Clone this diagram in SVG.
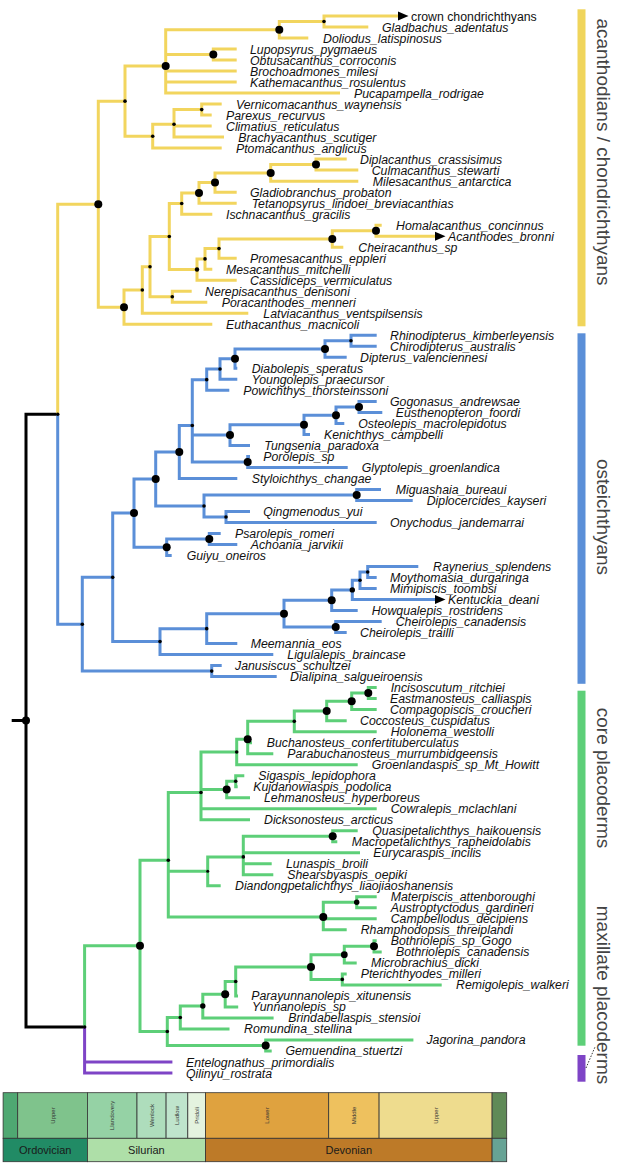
<svg xmlns="http://www.w3.org/2000/svg" width="617" height="1166" viewBox="0 0 617 1166">
<style>
path.e{fill:none;stroke-width:3;stroke-linejoin:miter;stroke-linecap:butt}
.y{stroke:#F2D55E}.b{stroke:#5B8FD8}.g{stroke:#5DCF78}.p{stroke:#7E44C6}.k{stroke:#000}
circle{fill:#000}
text.t{font-family:"Liberation Sans",Arial,sans-serif;font-style:italic;font-size:12.3px;fill:#111}
text.u{font-family:"Liberation Sans",Arial,sans-serif;font-size:12.3px;fill:#111}
text.c{font-family:"Liberation Sans",Arial,sans-serif;font-size:19px;fill:#444}
text.s{font-family:"Liberation Sans",Arial,sans-serif;font-size:6px;fill:#333}
text.pd{font-family:"Liberation Sans",Arial,sans-serif;font-size:11px;fill:#1a1a1a}
.cell{stroke:#333;stroke-width:0.8}
</style>
<defs>
<marker id="arr" markerWidth="11" markerHeight="10" refX="0" refY="5" orient="auto" markerUnits="userSpaceOnUse"><path d="M0,0.5 L10.5,5 L0,9.5 Z" fill="#000"/></marker>
</defs>
<rect width="617" height="1166" fill="#fff"/>
<g id="connectors">
<path class="e k" d="M11.7 720.58 H26 M26 720.58 V414.2 H57.7 M26 720.58 V1026.95 H84.6"/>
<path class="e y" d="M57.7 414.2 V204.15 H98.3 M98.3 204.15 V101.15 H125 M125 101.15 V66.11 H165.7 M165.7 66.11 V29.75 H279.3 M279.3 29.75 V21.5 H324 M324 21.5 V27 H368.3 M279.3 29.75 V38 H308.3 M165.7 66.11 V54.5 H213.3 M213.3 54.5 V49 H236.7 M213.3 54.5 V60 H236.7 M165.7 66.11 V71.1 H236.7 M165.7 66.11 V82.1 H236.7 M165.7 66.11 V93.1 H340 M125 101.15 V136.18 H152.7 M152.7 136.18 V124.27 H174 M174 124.27 V109.6 H201.7 M201.7 109.6 V104.1 H221.7 M201.7 109.6 V115.1 H211.7 M174 124.27 V126.1 H211.7 M174 124.27 V137.1 H224 M152.7 136.18 V148.1 H221.7 M98.3 204.15 V307.15 H124 M124 307.15 V289.99 H142.3 M142.3 289.99 V266.68 H150 M150 266.68 V236.55 H169.3 M169.3 236.55 V203.54 H181.7 M181.7 203.54 V192.88 H199 M199 192.88 V182.55 H215 M215 182.55 V172.9 H270.7 M270.7 172.9 V164.6 H316 M316 164.6 V159.1 H346.7 M316 164.6 V170.1 H358.3 M270.7 172.9 V181.2 H358.3 M215 182.55 V192.2 H236.7 M199 192.88 V203.2 H236.7 M181.7 203.54 V214.2 H212.3 M169.3 236.55 V269.55 H197 M197 269.55 V258.89 H205 M205 258.89 V248.58 H219 M219 248.58 V238.95 H332.3 M332.3 238.95 V230.7 H376 M376 230.7 V225.2 H381.7 M332.3 238.95 V247.2 H343.3 M219 248.58 V258.2 H236.7 M205 258.89 V269.2 H212.3 M197 269.55 V280.2 H236.7 M150 266.68 V296.8 H172.3 M172.3 296.8 V291.3 H191.7 M172.3 296.8 V302.3 H207.3 M142.3 289.99 V313.3 H248.3 M124 307.15 V324.3 H212.3"/>
<path class="e y" marker-end="url(#arr)" d="M324 21.5 V16 H398"/>
<path class="e y" marker-end="url(#arr)" d="M376 230.7 V236.2 H435"/>
<path class="e b" d="M57.7 414.2 V624.24 H82.3 M82.3 624.24 V577.37 H112.7 M112.7 577.37 V513.11 H134 M134 513.11 V478.97 H155.7 M155.7 478.97 V451.97 H179.3 M179.3 451.97 V425.55 H192.3 M192.3 425.55 V379.65 H206.7 M206.7 379.65 V368.99 H220 M220 368.99 V358.68 H235 M235 358.68 V349.05 H325 M325 349.05 V340.8 H351 M351 340.8 V335.3 H376.7 M351 340.8 V346.3 H376.7 M325 349.05 V357.3 H346.7 M235 358.68 V368.3 H237.3 M220 368.99 V379.3 H237.3 M206.7 379.65 V390.3 H229.3 M192.3 425.55 V435.09 H230 M230 435.09 V424.78 H304 M304 424.78 V415.15 H336 M336 415.15 V406.9 H359 M359 406.9 V401.4 H376.7 M359 406.9 V412.4 H382.3 M336 415.15 V423.4 H344.3 M304 424.78 V434.4 H310 M230 435.09 V445.4 H250 M192.3 425.55 V461.9 H247.7 M247.7 461.9 V456.4 H250 M247.7 461.9 V467.4 H347.7 M179.3 451.97 V478.4 H237.3 M155.7 478.97 V505.98 H204 M204 505.98 V494.95 H356.7 M356.7 494.95 V489.4 H381 M356.7 494.95 V500.5 H412.7 M204 505.98 V517 H226 M226 517 V511.5 H250 M226 517 V522.5 H376.7 M134 513.11 V547.25 H166.7 M166.7 547.25 V539 H209.3 M209.3 539 V533.5 H220.7 M209.3 539 V544.5 H237.3 M166.7 547.25 V555.5 H171.7 M112.7 577.37 V641.62 H160 M160 641.62 V628.64 H206.7 M206.7 628.64 V613.67 H284 M284 613.67 V600.24 H331.7 M331.7 600.24 V589.88 H352.3 M352.3 589.88 V580.25 H360 M360 580.25 V572 H367.7 M367.7 572 V566.5 H418.3 M367.7 572 V577.5 H376.7 M360 580.25 V588.5 H376.7 M331.7 600.24 V610.6 H357.7 M284 613.67 V627.1 H335.7 M335.7 627.1 V621.6 H381.7 M335.7 627.1 V632.6 H346.7 M206.7 628.64 V643.6 H237.3 M160 641.62 V654.6 H273.3 M82.3 624.24 V671.1 H211.7 M211.7 671.1 V665.6 H221.7 M211.7 671.1 V676.6 H276.7"/>
<path class="e b" marker-end="url(#arr)" d="M352.3 589.88 V599.5 H435"/>
<path class="e g" d="M84.6 1026.95 V945.85 H140 M140 945.85 V860.26 H168.3 M168.3 860.26 V792.46 H201 M201 792.46 V751.98 H236.7 M236.7 751.98 V739.25 H247.7 M247.7 739.25 V721.36 H294.3 M294.3 721.36 V711.03 H326.7 M326.7 711.03 V701.35 H351.7 M351.7 701.35 V693.1 H368.3 M368.3 693.1 V687.6 H376.7 M368.3 693.1 V698.6 H376.7 M351.7 701.35 V709.6 H376.7 M326.7 711.03 V720.7 H346.7 M294.3 721.36 V731.7 H376.7 M247.7 739.25 V742.7 H252 M247.7 739.25 V753.7 H273.3 M236.7 751.98 V764.7 H357.7 M201 792.46 V789.45 H226.7 M226.7 789.45 V781.2 H235.7 M235.7 781.2 V775.7 H244.3 M235.7 781.2 V786.7 H237.7 M226.7 789.45 V797.7 H250 M201 792.46 V808.7 H376.7 M201 792.46 V819.7 H250 M168.3 860.26 V871.36 H207.7 M207.7 871.36 V856.91 H243.3 M243.3 856.91 V836.25 H332.7 M332.7 836.25 V830.7 H357.7 M332.7 836.25 V841.8 H337.3 M243.3 856.91 V852.8 H360 M243.3 856.91 V863.8 H271.7 M243.3 856.91 V874.8 H273.3 M207.7 871.36 V885.8 H220.7 M168.3 860.26 V916.97 H323.3 M323.3 916.97 V902.3 H356.7 M356.7 902.3 V896.8 H376.7 M356.7 902.3 V907.8 H376.7 M323.3 916.97 V918.8 H376.7 M323.3 916.97 V929.8 H346.7 M140 945.85 V1031.44 H167.3 M167.3 1031.44 V1017.47 H180.3 M180.3 1017.47 V1006.04 H202.8 M202.8 1006.04 V994.18 H225.2 M225.2 994.18 V981.46 H235.7 M235.7 981.46 V967.01 H311 M311 967.01 V954.63 H344.3 M344.3 954.63 V946.35 H374 M374 946.35 V940.8 H376.7 M374 946.35 V951.9 H381.7 M344.3 954.63 V962.9 H356.7 M311 967.01 V979.4 H342.3 M342.3 979.4 V973.9 H346.7 M342.3 979.4 V984.9 H441.7 M235.7 981.46 V995.9 H238 M225.2 994.18 V1006.9 H238.2 M202.8 1006.04 V1017.9 H273.6 M180.3 1017.47 V1028.9 H229.5 M167.3 1031.44 V1045.4 H265.7 M265.7 1045.4 V1039.9 H413.4 M265.7 1045.4 V1050.9 H271.7"/>
<path class="e p" d="M84.6 1026.95 V1062 H172.4 M84.6 1026.95 V1073 H172.4"/>
</g>
<g id="nodes">
<g id="n-root"><circle cx="26" cy="720.58" r="4"/></g>
<g id="n-B0"><circle cx="57.7" cy="414.2" r="1.8"/></g>
<g id="n-G0"><circle cx="84.6" cy="1026.95" r="1.8"/></g>
<g id="n-Y0"><circle cx="98.3" cy="204.15" r="4"/></g>
<g id="n-Y1"><circle cx="125" cy="101.15" r="1.8"/></g>
<g id="n-Y2"><circle cx="165.7" cy="66.11" r="4"/></g>
<g id="n-Y3"><circle cx="279.3" cy="29.75" r="4"/></g>
<g id="n-Y4"><circle cx="324" cy="21.5" r="1.8"/></g>
<g id="n-Y5"><circle cx="213.3" cy="54.5" r="4"/></g>
<g id="n-Y6"><circle cx="152.7" cy="136.18" r="1.8"/></g>
<g id="n-Y7"><circle cx="174" cy="124.27" r="1.8"/></g>
<g id="n-Y8"><circle cx="201.7" cy="109.6" r="1.8"/></g>
<g id="n-Y9"><circle cx="124" cy="307.15" r="4"/></g>
<g id="n-Y10"><circle cx="142.3" cy="289.99" r="1.8"/></g>
<g id="n-Y11"><circle cx="150" cy="266.68" r="1.8"/></g>
<g id="n-Y12"><circle cx="169.3" cy="236.55" r="1.8"/></g>
<g id="n-Y13"><circle cx="181.7" cy="203.54" r="1.8"/></g>
<g id="n-Y14"><circle cx="199" cy="192.88" r="4"/></g>
<g id="n-Y15"><circle cx="215" cy="182.55" r="4"/></g>
<g id="n-Y16"><circle cx="270.7" cy="172.9" r="4"/></g>
<g id="n-Y17"><circle cx="316" cy="164.6" r="4"/></g>
<g id="n-Y18"><circle cx="197" cy="269.55" r="2.2"/></g>
<g id="n-Y19"><circle cx="205" cy="258.89" r="1.8"/></g>
<g id="n-Y20"><circle cx="219" cy="248.58" r="1.8"/></g>
<g id="n-Y21"><circle cx="332.3" cy="238.95" r="4"/></g>
<g id="n-Y22"><circle cx="376" cy="230.7" r="4"/></g>
<g id="n-Y23"><circle cx="172.3" cy="296.8" r="1.8"/></g>
<g id="n-B1"><circle cx="82.3" cy="624.24" r="1.8"/></g>
<g id="n-B2"><circle cx="112.7" cy="577.37" r="1.8"/></g>
<g id="n-B3"><circle cx="134" cy="513.11" r="4"/></g>
<g id="n-B4"><circle cx="155.7" cy="478.97" r="4"/></g>
<g id="n-B5"><circle cx="179.3" cy="451.97" r="4"/></g>
<g id="n-B6"><circle cx="192.3" cy="425.55" r="1.8"/></g>
<g id="n-B7"><circle cx="206.7" cy="379.65" r="1.8"/></g>
<g id="n-B8"><circle cx="220" cy="368.99" r="1.8"/></g>
<g id="n-B9"><circle cx="235" cy="358.68" r="4"/></g>
<g id="n-B10"><circle cx="325" cy="349.05" r="4"/></g>
<g id="n-B11"><circle cx="351" cy="340.8" r="1.8"/></g>
<g id="n-B12"><circle cx="230" cy="435.09" r="4"/></g>
<g id="n-B13"><circle cx="304" cy="424.78" r="4"/></g>
<g id="n-B14"><circle cx="336" cy="415.15" r="4"/></g>
<g id="n-B15"><circle cx="359" cy="406.9" r="4"/></g>
<g id="n-B16"><circle cx="247.7" cy="461.9" r="4"/></g>
<g id="n-B17"><circle cx="204" cy="505.98" r="1.8"/></g>
<g id="n-B18"><circle cx="356.7" cy="494.95" r="4"/></g>
<g id="n-B19"><circle cx="226" cy="517" r="1.8"/></g>
<g id="n-B20"><circle cx="166.7" cy="547.25" r="4"/></g>
<g id="n-B21"><circle cx="209.3" cy="539" r="4"/></g>
<g id="n-B22"><circle cx="160" cy="641.62" r="1.8"/></g>
<g id="n-B23"><circle cx="206.7" cy="628.64" r="1.8"/></g>
<g id="n-B24"><circle cx="284" cy="613.67" r="4"/></g>
<g id="n-B25"><circle cx="331.7" cy="600.24" r="4"/></g>
<g id="n-B26"><circle cx="352.3" cy="589.88" r="2.7"/></g>
<g id="n-B27"><circle cx="360" cy="580.25" r="1.8"/></g>
<g id="n-B28"><circle cx="367.7" cy="572" r="1.8"/></g>
<g id="n-B29"><circle cx="335.7" cy="627.1" r="4"/></g>
<g id="n-B30"><circle cx="211.7" cy="671.1" r="1.8"/></g>
<g id="n-G1"><circle cx="140" cy="945.85" r="4"/></g>
<g id="n-G2"><circle cx="168.3" cy="860.26" r="1.8"/></g>
<g id="n-G3"><circle cx="201" cy="792.46" r="1.8"/></g>
<g id="n-G4"><circle cx="236.7" cy="751.98" r="1.8"/></g>
<g id="n-G5"><circle cx="247.7" cy="739.25" r="4"/></g>
<g id="n-G6"><circle cx="294.3" cy="721.36" r="1.8"/></g>
<g id="n-G7"><circle cx="326.7" cy="711.03" r="4"/></g>
<g id="n-G8"><circle cx="351.7" cy="701.35" r="4"/></g>
<g id="n-G9"><circle cx="368.3" cy="693.1" r="4"/></g>
<g id="n-G10"><circle cx="226.7" cy="789.45" r="4"/></g>
<g id="n-G11"><circle cx="235.7" cy="781.2" r="1.8"/></g>
<g id="n-G12"><circle cx="207.7" cy="871.36" r="1.5"/></g>
<g id="n-G13"><circle cx="243.3" cy="856.91" r="1.8"/></g>
<g id="n-G14"><circle cx="332.7" cy="836.25" r="4"/></g>
<g id="n-G15"><circle cx="323.3" cy="916.97" r="4"/></g>
<g id="n-G16"><circle cx="356.7" cy="902.3" r="2.7"/></g>
<g id="n-G17"><circle cx="167.3" cy="1031.44" r="1.8"/></g>
<g id="n-G18"><circle cx="180.3" cy="1017.47" r="1.8"/></g>
<g id="n-G19"><circle cx="202.8" cy="1006.04" r="2.7"/></g>
<g id="n-G20"><circle cx="225.2" cy="994.18" r="4"/></g>
<g id="n-G21"><circle cx="235.7" cy="981.46" r="1.8"/></g>
<g id="n-G22"><circle cx="311" cy="967.01" r="4"/></g>
<g id="n-G23"><circle cx="344.3" cy="954.63" r="3.4"/></g>
<g id="n-G24"><circle cx="374" cy="946.35" r="4"/></g>
<g id="n-G25"><circle cx="342.3" cy="979.4" r="1.8"/></g>
<g id="n-G26"><circle cx="265.7" cy="1045.4" r="4"/></g>
</g>
<g id="tips">
<g id="tip-1"><text class="u" x="411" y="20.5">crown chondrichthyans</text></g>
<g id="tip-2"><text class="t" x="382" y="31.5">Gladbachus_adentatus</text></g>
<g id="tip-3"><text class="t" x="323" y="42.5">Doliodus_latispinosus</text></g>
<g id="tip-4"><text class="t" x="250" y="53.5">Lupopsyrus_pygmaeus</text></g>
<g id="tip-5"><text class="t" x="250" y="64.5">Obtusacanthus_corroconis</text></g>
<g id="tip-6"><text class="t" x="250" y="75.6">Brochoadmones_milesi</text></g>
<g id="tip-7"><text class="t" x="250" y="86.6">Kathemacanthus_rosulentus</text></g>
<g id="tip-8"><text class="t" x="354" y="97.6">Pucapampella_rodrigae</text></g>
<g id="tip-9"><text class="t" x="236" y="108.6">Vernicomacanthus_waynensis</text></g>
<g id="tip-10"><text class="t" x="226" y="119.6">Parexus_recurvus</text></g>
<g id="tip-11"><text class="t" x="226" y="130.6">Climatius_reticulatus</text></g>
<g id="tip-12"><text class="t" x="238.3" y="141.6">Brachyacanthus_scutiger</text></g>
<g id="tip-13"><text class="t" x="236" y="152.6">Ptomacanthus_anglicus</text></g>
<g id="tip-14"><text class="t" x="360" y="163.6">Diplacanthus_crassisimus</text></g>
<g id="tip-15"><text class="t" x="371.7" y="174.6">Culmacanthus_stewarti</text></g>
<g id="tip-16"><text class="t" x="372.7" y="185.7">Milesacanthus_antarctica</text></g>
<g id="tip-17"><text class="t" x="250" y="196.7">Gladiobranchus_probaton</text></g>
<g id="tip-18"><text class="t" x="251.7" y="207.7">Tetanopsyrus_lindoei_breviacanthias</text></g>
<g id="tip-19"><text class="t" x="226" y="218.7">Ischnacanthus_gracilis</text></g>
<g id="tip-20"><text class="t" x="396" y="229.7">Homalacanthus_concinnus</text></g>
<g id="tip-21"><text class="t" x="448" y="240.7">Acanthodes_bronni</text></g>
<g id="tip-22"><text class="t" x="358.3" y="251.7">Cheiracanthus_sp</text></g>
<g id="tip-23"><text class="t" x="250" y="262.7">Promesacanthus_eppleri</text></g>
<g id="tip-24"><text class="t" x="226" y="273.7">Mesacanthus_mitchelli</text></g>
<g id="tip-25"><text class="t" x="250" y="284.7">Cassidiceps_vermiculatus</text></g>
<g id="tip-26"><text class="t" x="205" y="295.8">Nerepisacanthus_denisoni</text></g>
<g id="tip-27"><text class="t" x="221.7" y="306.8">Poracanthodes_menneri</text></g>
<g id="tip-28"><text class="t" x="263.3" y="317.8">Latviacanthus_ventspilsensis</text></g>
<g id="tip-29"><text class="t" x="226" y="328.8">Euthacanthus_macnicoli</text></g>
<g id="tip-30"><text class="t" x="390" y="339.8">Rhinodipterus_kimberleyensis</text></g>
<g id="tip-31"><text class="t" x="390" y="350.8">Chirodipterus_australis</text></g>
<g id="tip-32"><text class="t" x="360" y="361.8">Dipterus_valenciennesi</text></g>
<g id="tip-33"><text class="t" x="251.7" y="372.8">Diabolepis_speratus</text></g>
<g id="tip-34"><text class="t" x="251.7" y="383.8">Youngolepis_praecursor</text></g>
<g id="tip-35"><text class="t" x="243.3" y="394.8">Powichthys_thorsteinssoni</text></g>
<g id="tip-36"><text class="t" x="390" y="405.9">Gogonasus_andrewsae</text></g>
<g id="tip-37"><text class="t" x="395.7" y="416.9">Eusthenopteron_foordi</text></g>
<g id="tip-38"><text class="t" x="358.3" y="427.9">Osteolepis_macrolepidotus</text></g>
<g id="tip-39"><text class="t" x="324" y="438.9">Kenichthys_campbelli</text></g>
<g id="tip-40"><text class="t" x="264.3" y="449.9">Tungsenia_paradoxa</text></g>
<g id="tip-41"><text class="t" x="263.3" y="460.9">Porolepis_sp</text></g>
<g id="tip-42"><text class="t" x="361.7" y="471.9">Glyptolepis_groenlandica</text></g>
<g id="tip-43"><text class="t" x="251.7" y="482.9">Styloichthys_changae</text></g>
<g id="tip-44"><text class="t" x="395.7" y="493.9">Miguashaia_bureaui</text></g>
<g id="tip-45"><text class="t" x="426.7" y="505">Diplocercides_kayseri</text></g>
<g id="tip-46"><text class="t" x="263.3" y="516">Qingmenodus_yui</text></g>
<g id="tip-47"><text class="t" x="390" y="527">Onychodus_jandemarrai</text></g>
<g id="tip-48"><text class="t" x="235" y="538">Psarolepis_romeri</text></g>
<g id="tip-49"><text class="t" x="250.7" y="549">Achoania_jarvikii</text></g>
<g id="tip-50"><text class="t" x="186.7" y="560">Guiyu_oneiros</text></g>
<g id="tip-51"><text class="t" x="433" y="571">Raynerius_splendens</text></g>
<g id="tip-52"><text class="t" x="390" y="582">Moythomasia_durgaringa</text></g>
<g id="tip-53"><text class="t" x="390" y="593">Mimipiscis_toombsi</text></g>
<g id="tip-54"><text class="t" x="448" y="604">Kentuckia_deani</text></g>
<g id="tip-55"><text class="t" x="371.7" y="615.1">Howqualepis_rostridens</text></g>
<g id="tip-56"><text class="t" x="395.7" y="626.1">Cheirolepis_canadensis</text></g>
<g id="tip-57"><text class="t" x="360" y="637.1">Cheirolepis_trailli</text></g>
<g id="tip-58"><text class="t" x="250.7" y="648.1">Meemannia_eos</text></g>
<g id="tip-59"><text class="t" x="287.3" y="659.1">Ligulalepis_braincase</text></g>
<g id="tip-60"><text class="t" x="235" y="670.1">Janusiscus_schultzei</text></g>
<g id="tip-61"><text class="t" x="290" y="681.1">Dialipina_salgueiroensis</text></g>
<g id="tip-62"><text class="t" x="390.7" y="692.1">Incisoscutum_ritchiei</text></g>
<g id="tip-63"><text class="t" x="390" y="703.1">Eastmanosteus_calliaspis</text></g>
<g id="tip-64"><text class="t" x="390" y="714.1">Compagopiscis_croucheri</text></g>
<g id="tip-65"><text class="t" x="360" y="725.2">Coccosteus_cuspidatus</text></g>
<g id="tip-66"><text class="t" x="390.7" y="736.2">Holonema_westolli</text></g>
<g id="tip-67"><text class="t" x="266.7" y="747.2">Buchanosteus_confertituberculatus</text></g>
<g id="tip-68"><text class="t" x="287.3" y="758.2">Parabuchanosteus_murrumbidgeensis</text></g>
<g id="tip-69"><text class="t" x="371.7" y="769.2">Groenlandaspis_sp_Mt_Howitt</text></g>
<g id="tip-70"><text class="t" x="258.3" y="780.2">Sigaspis_lepidophora</text></g>
<g id="tip-71"><text class="t" x="253.3" y="791.2">Kujdanowiaspis_podolica</text></g>
<g id="tip-72"><text class="t" x="264" y="802.2">Lehmanosteus_hyperboreus</text></g>
<g id="tip-73"><text class="t" x="390.7" y="813.2">Cowralepis_mclachlani</text></g>
<g id="tip-74"><text class="t" x="264" y="824.2">Dicksonosteus_arcticus</text></g>
<g id="tip-75"><text class="t" x="372.3" y="835.2">Quasipetalichthys_haikouensis</text></g>
<g id="tip-76"><text class="t" x="351.7" y="846.3">Macropetalichthys_rapheidolabis</text></g>
<g id="tip-77"><text class="t" x="373.3" y="857.3">Eurycaraspis_incilis</text></g>
<g id="tip-78"><text class="t" x="286" y="868.3">Lunaspis_broili</text></g>
<g id="tip-79"><text class="t" x="287.3" y="879.3">Shearsbyaspis_oepiki</text></g>
<g id="tip-80"><text class="t" x="235" y="890.3">Diandongpetalichthys_liaojiaoshanensis</text></g>
<g id="tip-81"><text class="t" x="390.7" y="901.3">Materpiscis_attenboroughi</text></g>
<g id="tip-82"><text class="t" x="390.7" y="912.3">Austroptyctodus_gardineri</text></g>
<g id="tip-83"><text class="t" x="390.7" y="923.3">Campbellodus_decipiens</text></g>
<g id="tip-84"><text class="t" x="360.7" y="934.3">Rhamphodopsis_threiplandi</text></g>
<g id="tip-85"><text class="t" x="390.7" y="945.3">Bothriolepis_sp_Gogo</text></g>
<g id="tip-86"><text class="t" x="396" y="956.4">Bothriolepis_canadensis</text></g>
<g id="tip-87"><text class="t" x="371" y="967.4">Microbrachius_dicki</text></g>
<g id="tip-88"><text class="t" x="360.7" y="978.4">Pterichthyodes_milleri</text></g>
<g id="tip-89"><text class="t" x="456" y="989.4">Remigolepis_walkeri</text></g>
<g id="tip-90"><text class="t" x="251.2" y="1000.4">Parayunnanolepis_xitunensis</text></g>
<g id="tip-91"><text class="t" x="252" y="1011.4">Yunnanolepis_sp</text></g>
<g id="tip-92"><text class="t" x="288.2" y="1022.4">Brindabellaspis_stensioi</text></g>
<g id="tip-93"><text class="t" x="244.1" y="1033.4">Romundina_stellina</text></g>
<g id="tip-94"><text class="t" x="426.4" y="1044.4">Jagorina_pandora</text></g>
<g id="tip-95"><text class="t" x="285.4" y="1055.4">Gemuendina_stuertzi</text></g>
<g id="tip-96"><text class="t" x="186" y="1066.5">Entelognathus_primordialis</text></g>
<g id="tip-97"><text class="t" x="186" y="1077.5">Qilinyu_rostrata</text></g>
</g>
<g id="clade-bars">
<rect x="577.5" y="9.3" width="8" height="317" fill="#F0D55C"/>
<rect x="577.5" y="333.3" width="8" height="350.5" fill="#5B8FD8"/>
<rect x="577.5" y="690.7" width="8" height="355" fill="#5DCF78"/>
<rect x="577.5" y="1055" width="8" height="26.7" fill="#7E44C6"/>
<text class="c" text-anchor="middle" transform="translate(596.5,152) rotate(90)">acanthodians / chondrichthyans</text>
<text class="c" text-anchor="middle" transform="translate(596.5,517) rotate(90)">osteichthyans</text>
<text class="c" text-anchor="middle" transform="translate(596.5,778) rotate(90)">core placoderms</text>
<text class="c" text-anchor="middle" transform="translate(596.5,995) rotate(90)">maxillate placoderms</text>
<path d="M586 1068 L595 1047" stroke="#333" stroke-width="1" stroke-dasharray="1.5 1.5" fill="none"/>
</g>
<g id="timescale">
<rect class="cell" x="3.1" y="1092.7" width="14.6" height="45.6" fill="#4FA872"/>
<rect class="cell" x="17.7" y="1092.7" width="69.7" height="45.6" fill="#7FC38C"/>
<rect class="cell" x="87.4" y="1092.7" width="49.6" height="45.6" fill="#95D2A5"/>
<rect class="cell" x="137" y="1092.7" width="29.1" height="45.6" fill="#AEDDBC"/>
<rect class="cell" x="166.1" y="1092.7" width="21.7" height="45.6" fill="#BFE4CC"/>
<rect class="cell" x="187.8" y="1092.7" width="17.7" height="45.6" fill="#E4F3DF"/>
<rect class="cell" x="205.5" y="1092.7" width="123.2" height="45.6" fill="#DFA23F"/>
<rect class="cell" x="328.7" y="1092.7" width="50.4" height="45.6" fill="#EEC15E"/>
<rect class="cell" x="379.1" y="1092.7" width="113" height="45.6" fill="#EEDC8E"/>
<rect class="cell" x="492.1" y="1092.7" width="14.6" height="45.6" fill="#5F8A57"/>
<rect class="cell" x="3.1" y="1138.3" width="84.3" height="23.4" fill="#218B65"/>
<rect class="cell" x="87.4" y="1138.3" width="118.1" height="23.4" fill="#AEDFA8"/>
<rect class="cell" x="205.5" y="1138.3" width="286.6" height="23.4" fill="#BD7A28"/>
<rect class="cell" x="492.1" y="1138.3" width="14.6" height="23.4" fill="#67A395"/>
<text class="s" text-anchor="middle" transform="translate(54.6,1115.5) rotate(-90)">Upper</text>
<text class="s" text-anchor="middle" transform="translate(114.3,1115.5) rotate(-90)">Llandovery</text>
<text class="s" text-anchor="middle" transform="translate(153.6,1115.5) rotate(-90)">Wenlock</text>
<text class="s" text-anchor="middle" transform="translate(179.1,1115.5) rotate(-90)">Ludlow</text>
<text class="s" text-anchor="middle" transform="translate(198.8,1115.5) rotate(-90)">Pridoli</text>
<text class="s" text-anchor="middle" transform="translate(269.2,1115.5) rotate(-90)">Lower</text>
<text class="s" text-anchor="middle" transform="translate(356,1115.5) rotate(-90)">Middle</text>
<text class="s" text-anchor="middle" transform="translate(437.7,1115.5) rotate(-90)">Upper</text>
<text class="pd" text-anchor="middle" x="45.2" y="1154">Ordovician</text>
<text class="pd" text-anchor="middle" x="146.4" y="1154">Silurian</text>
<text class="pd" text-anchor="middle" x="348.8" y="1154">Devonian</text>
</g>
</svg>
